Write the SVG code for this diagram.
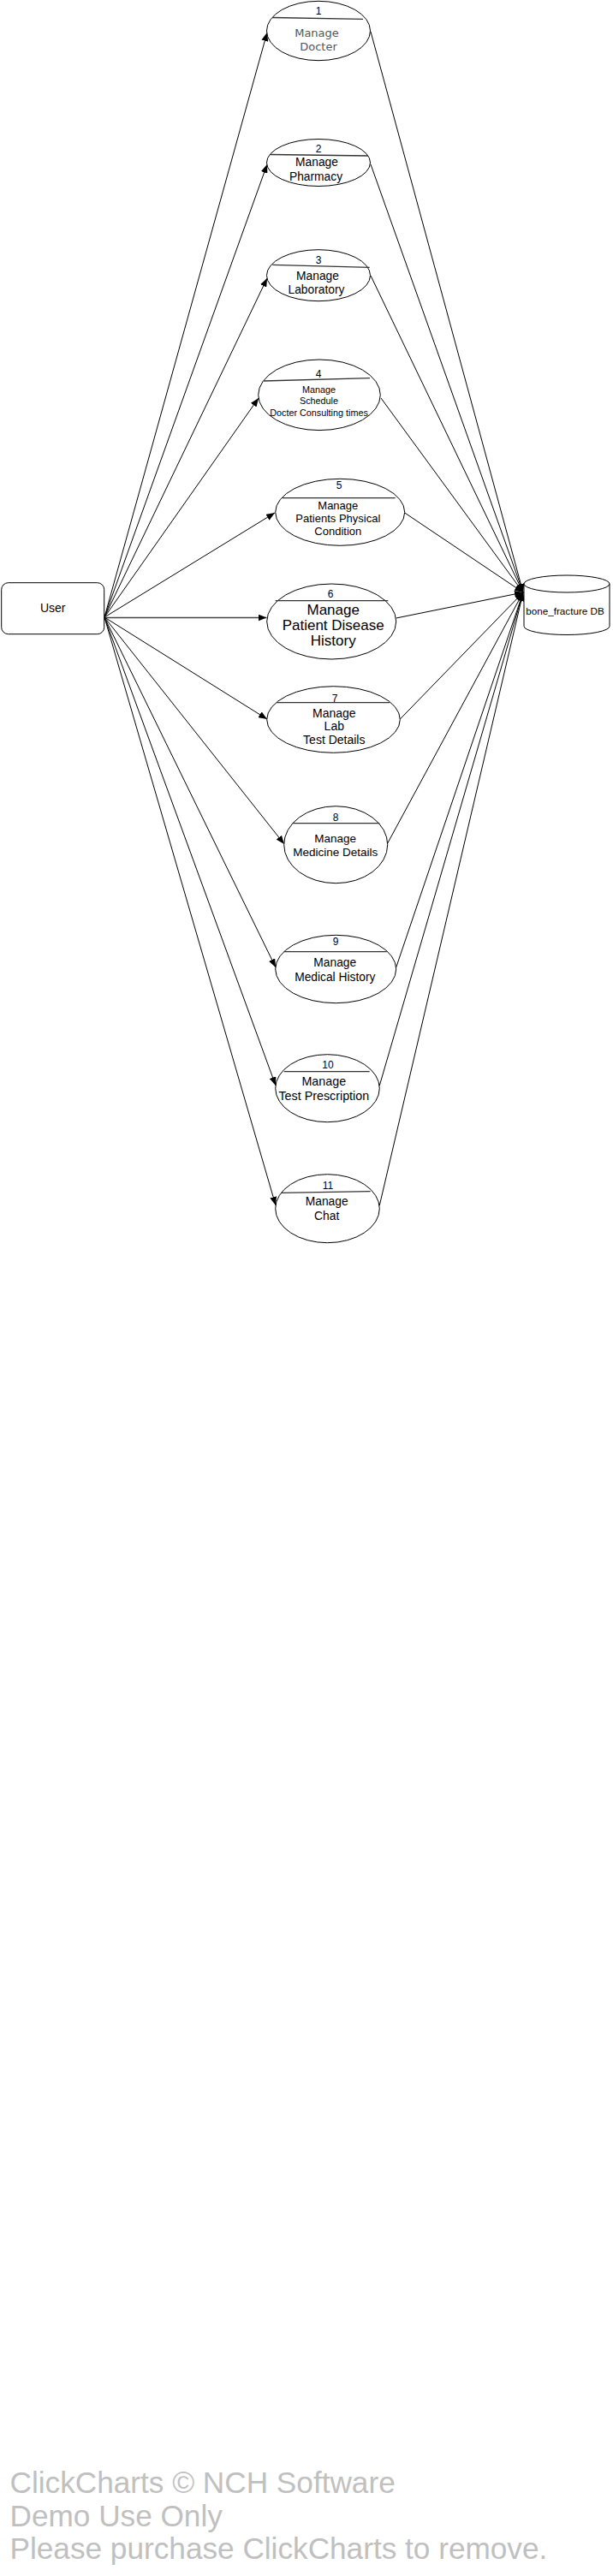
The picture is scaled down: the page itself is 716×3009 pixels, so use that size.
<svg xmlns="http://www.w3.org/2000/svg" width="716" height="3009" viewBox="0 0 716 3009">
<defs>
<marker id="arr" markerUnits="userSpaceOnUse" markerWidth="10" markerHeight="8" refX="10" refY="4" orient="auto">
<path d="M0,0 L10,4 L0,8 z" fill="#000"/>
</marker>
<style>
.proc{fill:#fff;stroke:#000;stroke-width:1}
.div{stroke:#333;stroke-width:1.3;fill:none}
.t{font-family:"Liberation Sans",Arial,sans-serif;fill:#000;text-anchor:middle}
.n{font-size:12px}
.m{font-size:13.8px}
.c{stroke:#000;stroke-width:1;fill:none;marker-end:url(#arr)}
.wm{font-family:"Liberation Sans",Arial,sans-serif;font-size:35.2px;fill:#c0c0c0}
</style>
</defs>
<rect width="716" height="3009" fill="#fff"/>

<g id="connectors">
<line class="c" x1="122" y1="721" x2="312" y2="38"/>
<line class="c" x1="122" y1="721" x2="312" y2="192"/>
<line class="c" x1="122" y1="721" x2="312" y2="325"/>
<line class="c" x1="122" y1="721" x2="302" y2="465"/>
<line class="c" x1="122" y1="721" x2="321" y2="599"/>
<line class="c" x1="122" y1="721.5" x2="311.5" y2="721.5" style="stroke:#444;stroke-width:1.6"/>
<line class="c" x1="122" y1="721" x2="312" y2="840"/>
<line class="c" x1="122" y1="721" x2="332" y2="986"/>
<line class="c" x1="122" y1="721" x2="322" y2="1130"/>
<line class="c" x1="122" y1="721" x2="322" y2="1268"/>
<line class="c" x1="122" y1="721" x2="322" y2="1408"/>

<line class="c" x1="433" y1="37" x2="611" y2="692"/>
<line class="c" x1="433" y1="192" x2="611" y2="692"/>
<line class="c" x1="433" y1="322" x2="611" y2="692"/>
<line class="c" x1="445" y1="465" x2="611" y2="692"/>
<line class="c" x1="472.7" y1="599" x2="611" y2="692"/>
<line class="c" x1="462.7" y1="722" x2="611" y2="692"/>
<line class="c" x1="467.3" y1="840" x2="611" y2="692"/>
<line class="c" x1="452.7" y1="985" x2="611" y2="692"/>
<line class="c" x1="462.7" y1="1130" x2="611" y2="692"/>
<line class="c" x1="443.3" y1="1268" x2="611" y2="692"/>
<line class="c" x1="443.3" y1="1408" x2="611" y2="692"/>
</g>

<g id="user">
<rect x="1.7" y="680.7" width="120" height="60" rx="8" ry="8" fill="#fff" stroke="#000" stroke-width="1"/>
<text class="t" x="61.7" y="715" style="font-size:14px">User</text>
</g>

<g id="db">
<path d="M612,682 L612,731.5 A50,10 0 0 0 712,731.5 L712,682" fill="#fff" stroke="#000" stroke-width="1"/>
<ellipse cx="662" cy="682" rx="50" ry="10" fill="#fff" stroke="#000" stroke-width="1"/>
<text class="t" x="660" y="718" style="font-size:11.7px">bone_fracture DB</text>
</g>

<g id="p1">
<ellipse class="proc" cx="372" cy="36" rx="60.5" ry="34.7"/>
<line class="div" x1="318" y1="20.5" x2="424" y2="22.3"/>
<text class="t n" x="372" y="17.3">1</text>
<text class="t" x="370" y="43" style="font-family:'DejaVu Sans',sans-serif;font-size:13px;fill:#555">Manage</text>
<text class="t" x="372" y="59" style="font-family:'DejaVu Sans',sans-serif;font-size:13px;fill:#555">Docter</text>
</g>

<g id="p2">
<ellipse class="proc" cx="372" cy="190" rx="60.5" ry="27.5"/>
<line class="div" x1="316" y1="180.5" x2="430" y2="182"/>
<text class="t n" x="372" y="177.5">2</text>
<text class="t m" x="370" y="194">Manage</text>
<text class="t m" x="369" y="211">Pharmacy</text>
</g>

<g id="p3">
<ellipse class="proc" cx="372" cy="321.7" rx="60.5" ry="30"/>
<line class="div" x1="318.3" y1="309.3" x2="431.7" y2="312.3"/>
<text class="t n" x="372" y="307.5">3</text>
<text class="t m" x="371" y="326.5">Manage</text>
<text class="t m" x="369.5" y="343">Laboratory</text>
</g>

<g id="p4">
<ellipse class="proc" cx="373" cy="461.3" rx="71.3" ry="41.3"/>
<line class="div" x1="308" y1="445" x2="432" y2="441.7"/>
<text class="t n" x="372" y="441">4</text>
<text class="t" x="372.5" y="458.8" style="font-size:10.8px">Manage</text>
<text class="t" x="372.5" y="471.8" style="font-size:10.8px">Schedule</text>
<text class="t" x="372.5" y="485.5" style="font-size:10.8px">Docter Consulting times</text>
</g>

<g id="p5">
<ellipse class="proc" cx="397.2" cy="598.3" rx="75.5" ry="39"/>
<line class="div" x1="330" y1="581.7" x2="461.7" y2="581.7"/>
<text class="t n" x="396" y="571">5</text>
<text class="t" x="394.8" y="595.3" style="font-size:13px">Manage</text>
<text class="t" x="394.8" y="610.3" style="font-size:13px">Patients Physical</text>
<text class="t" x="394.8" y="624.6" style="font-size:13px">Condition</text>
</g>

<g id="p6">
<ellipse class="proc" cx="387.2" cy="726" rx="75.5" ry="44"/>
<line class="div" x1="321.7" y1="701.7" x2="453.3" y2="701.7"/>
<text class="t n" x="386" y="698">6</text>
<text class="t" x="389.2" y="717.7" style="font-size:17px">Manage</text>
<text class="t" x="389.2" y="736" style="font-size:17px">Patient Disease</text>
<text class="t" x="389.2" y="754" style="font-size:17px">History</text>
</g>

<g id="p7">
<ellipse class="proc" cx="389.5" cy="840.5" rx="77.8" ry="38.8"/>
<line class="div" x1="323" y1="820.7" x2="455" y2="820.7"/>
<text class="t n" x="391" y="819.5">7</text>
<text class="t" x="390.3" y="837.6" style="font-size:14px">Manage</text>
<text class="t" x="390.3" y="853.2" style="font-size:14px">Lab</text>
<text class="t" x="390.3" y="869.2" style="font-size:14px">Test Details</text>
</g>

<g id="p8">
<ellipse class="proc" cx="392.2" cy="986.7" rx="60.5" ry="45"/>
<line class="div" x1="341.7" y1="961.7" x2="443.3" y2="961.7"/>
<text class="t n" x="392" y="958.5">8</text>
<text class="t" x="391.7" y="983.7" style="font-size:13.5px">Manage</text>
<text class="t" x="391.7" y="999.7" style="font-size:13.5px">Medicine Details</text>
</g>

<g id="p9">
<ellipse class="proc" cx="392.2" cy="1132" rx="70.5" ry="39.7"/>
<line class="div" x1="331.7" y1="1111.7" x2="451.7" y2="1111.7"/>
<text class="t n" x="392" y="1103.7">9</text>
<text class="t m" x="391.3" y="1129">Manage</text>
<text class="t m" x="391.3" y="1145.7">Medical History</text>
</g>

<g id="p10">
<ellipse class="proc" cx="382.5" cy="1271.2" rx="60.8" ry="39.5"/>
<line class="div" x1="331.7" y1="1251.7" x2="431.7" y2="1251.7"/>
<text class="t n" x="383" y="1247.5">10</text>
<text class="t" x="378.3" y="1268" style="font-size:14.3px">Manage</text>
<text class="t" x="378.3" y="1285" style="font-size:14.3px">Test Prescription</text>
</g>

<g id="p11">
<ellipse class="proc" cx="382.5" cy="1411.7" rx="60.8" ry="40"/>
<line class="div" x1="328" y1="1393.3" x2="432.7" y2="1391.7"/>
<text class="t n" x="383" y="1389.3">11</text>
<text class="t m" x="381.7" y="1408">Manage</text>
<text class="t m" x="381.7" y="1425">Chat</text>
</g>

<g id="watermark">
<text class="wm" x="11.5" y="2912">ClickCharts © NCH Software</text>
<text class="wm" x="11.5" y="2951">Demo Use Only</text>
<text class="wm" x="11.5" y="2988.5">Please purchase ClickCharts to remove.</text>
</g>
</svg>
